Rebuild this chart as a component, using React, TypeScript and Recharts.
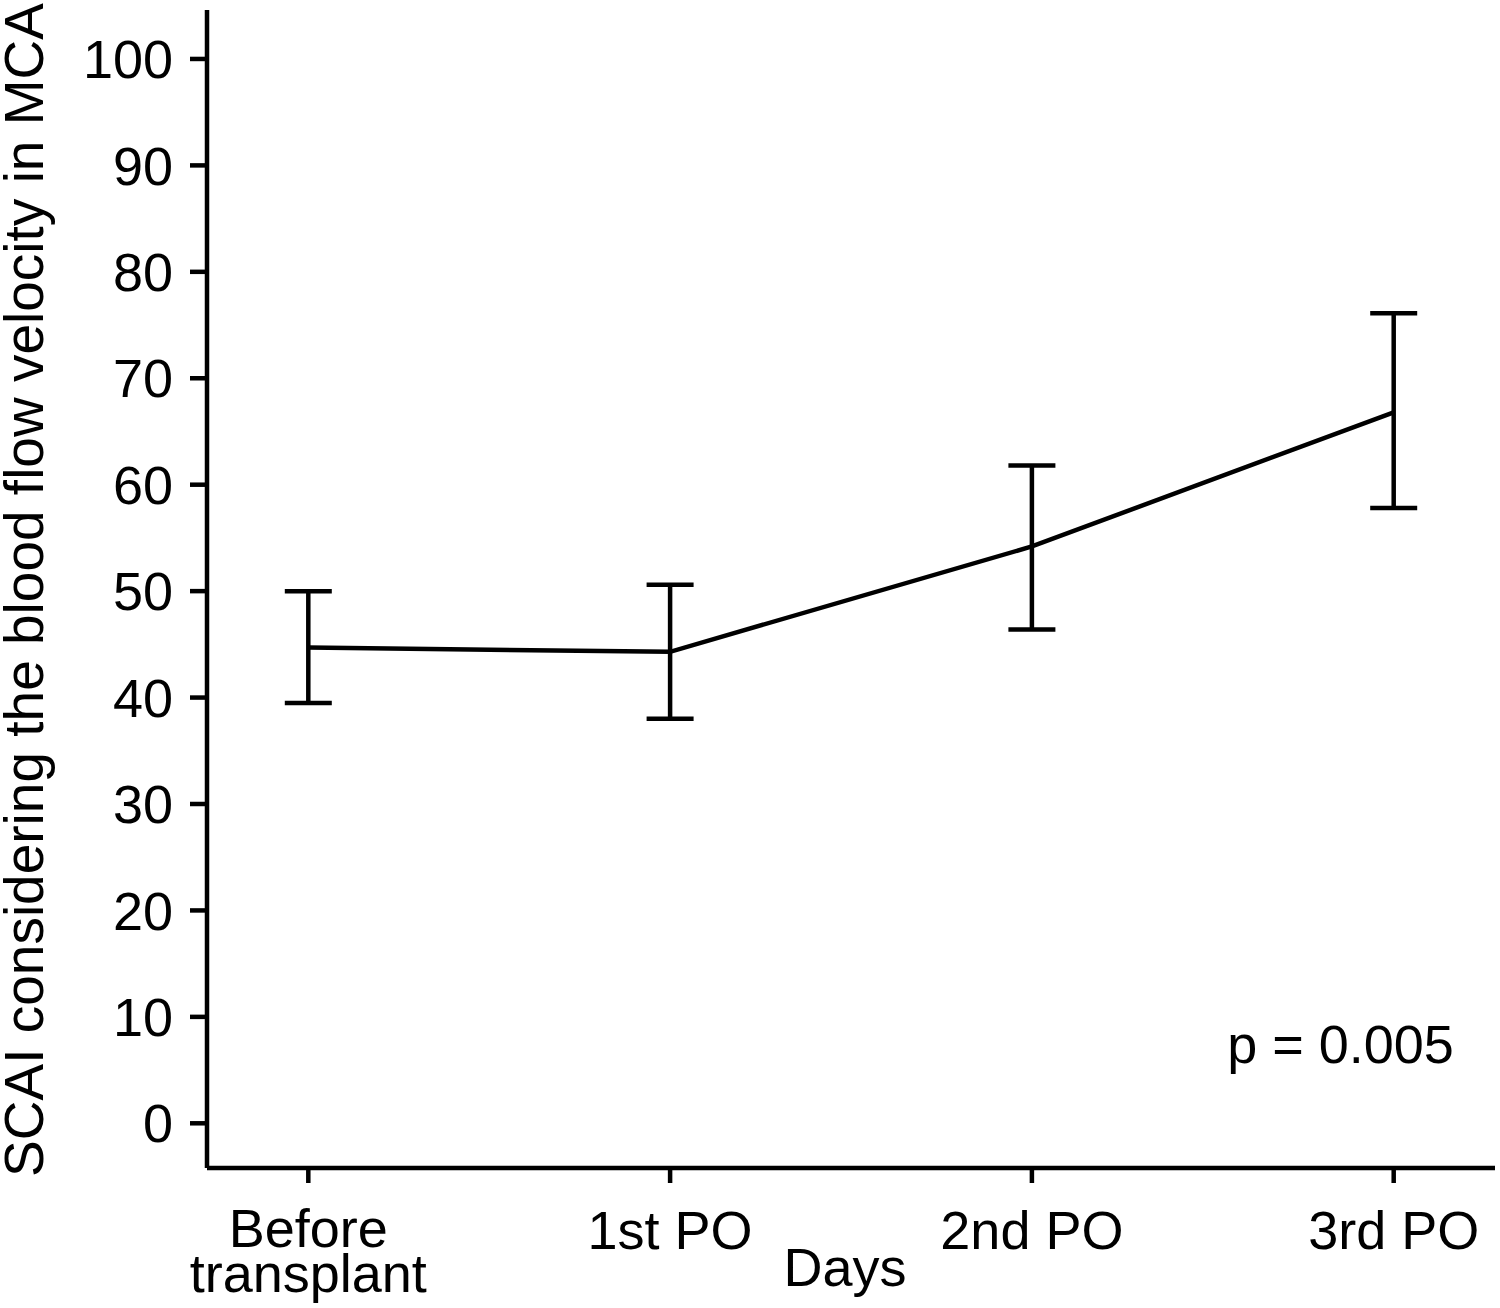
import React from "react"
import {
  LineChart, Line, XAxis, YAxis, ErrorBar, ReferenceDot
} from "recharts"

// values
const categories = ["Before transplant", "1st PO", "2nd PO", "3rd PO"]
const tickLines = [["Before", "transplant"], ["1st PO"], ["2nd PO"], ["3rd PO"]]
const means = [44.7, 44.3, 54.2, 66.8]
const upper = [50.0, 50.6, 61.8, 76.1]
const lower = [39.5, 38.0, 46.4, 57.8]
const yTicks = [0, 10, 20, 30, 40, 50, 60, 70, 80, 90, 100]
const pValue = "p = 0.005"

const data = categories.map((name, i) => ({
  x: i,
  name,
  mean: means[i],
  err: [means[i] - lower[i], upper[i] - means[i]],
}))

const FONT = "'Liberation Sans', Arial, Helvetica, sans-serif"
const SW = 4.5

function CategoryTick(props: any) {
  const { x, y, payload } = props
  const lines = tickLines[payload.value] || []
  if (lines.length === 1) {
    return (
      <text x={x} y={y + 66} textAnchor="middle" fontSize={54} fill="#000" fontFamily={FONT}>
        {lines[0]}
      </text>
    )
  }
  return (
    <text x={x} y={y} textAnchor="middle" fontSize={54} fill="#000" fontFamily={FONT}>
      {lines.map((l, k) => (
        <tspan key={k} x={x} y={y + 64 + k * 45}>{l}</tspan>
      ))}
    </text>
  )
}

export default function App() {
  return (
    <div style={{ position: "absolute", left: 0, top: 0, background: "#fff" }}>
      <LineChart
        width={1500}
        height={1308}
        data={data}
        margin={{ top: 10, right: 5, bottom: 0, left: 0 }}
      >
        <XAxis
          type="number"
          dataKey="x"
          domain={[-0.28, 3.28]}
          ticks={[0, 1, 2, 3]}
          allowDataOverflow
          height={140}
          tickSize={15}
          tickMargin={0}
          axisLine={{ stroke: "#000", strokeWidth: SW }}
          tickLine={{ stroke: "#000", strokeWidth: SW }}
          tick={<CategoryTick />}
          label={{
            content: (p: any) => {
              const vb = p.viewBox
              return (
                <text x={vb.x + vb.width / 2 - 6} y={vb.y + 118} textAnchor="middle"
                  fontSize={54} fill="#000" fontFamily={FONT}>Days</text>
              )
            },
          }}
        />
        <YAxis
          type="number"
          domain={[-4.2, 104.6]}
          ticks={yTicks}
          allowDataOverflow
          width={207}
          tickSize={17}
          tickMargin={17}
          axisLine={{ stroke: "#000", strokeWidth: SW }}
          tickLine={{ stroke: "#000", strokeWidth: SW }}
          tick={{ fontSize: 54, fill: "#000", fontFamily: FONT }}
          label={{
            content: (p: any) => {
              const vb = p.viewBox
              const cx = 43
              const cy = vb.y + vb.height / 2 + 1
              return (
                <text x={cx} y={cy} textAnchor="middle" transform={`rotate(-90, ${cx}, ${cy})`}
                  fontSize={55} fill="#000" fontFamily={FONT}>
                  SCAI considering the blood flow velocity in MCA
                </text>
              )
            },
          }}
        />
        <Line
          type="linear"
          dataKey="mean"
          stroke="#000"
          strokeWidth={SW}
          dot={false}
          activeDot={false}
          isAnimationActive={false}
        >
          <ErrorBar dataKey="err" direction="y" width={23.5} stroke="#000" strokeWidth={SW} isAnimationActive={false} />
        </Line>
        <ReferenceDot
          x={2.853}
          y={5.67}
          r={1}
          ifOverflow="visible"
          shape={(p: any) => (
            <text x={p.cx} y={p.cy} textAnchor="middle" fontSize={54} fill="#000" fontFamily={FONT}>
              {pValue}
            </text>
          )}
        />
      </LineChart>
    </div>
  )
}
